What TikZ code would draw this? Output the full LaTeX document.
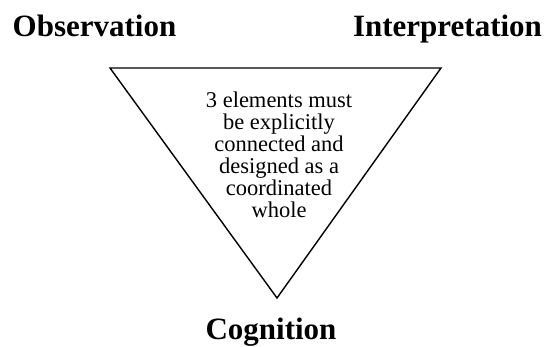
\documentclass[tikz,border=0pt]{standalone}
\usepackage{fontspec}
\setmainfont{Liberation Serif}
\usetikzlibrary{positioning,calc}

\begin{document}
\begin{tikzpicture}[x=1pt,y=-1pt,
  corner/.style={font=\fontsize{31}{34}\selectfont\bfseries, inner sep=0pt, anchor=base},
  inside/.style={font=\fontsize{22.5}{22}\selectfont, align=center, inner sep=0pt}]
\useasboundingbox (0,0) rectangle (545,347);
% triangle corners
\coordinate (tl) at (110,68);
\coordinate (tr) at (441,68);
\coordinate (bt) at (277,298);
\draw[line width=1.4pt, line join=miter] (tl) -- (tr) -- (bt) -- cycle;
% labels
\node[corner] (obs) at (94.5,37) {Observation};
\node[corner] (interp) at (447.5,37) {Interpretation};
\node[corner, font=\fontsize{31}{34}\selectfont\bfseries] (cog) at (271,339) {Cognition};
% centre text
\node[inside] (msg) at (279,155) {3 elements must\\be explicitly\\connected and\\designed as a\\coordinated\\whole};
\end{tikzpicture}
\end{document}
